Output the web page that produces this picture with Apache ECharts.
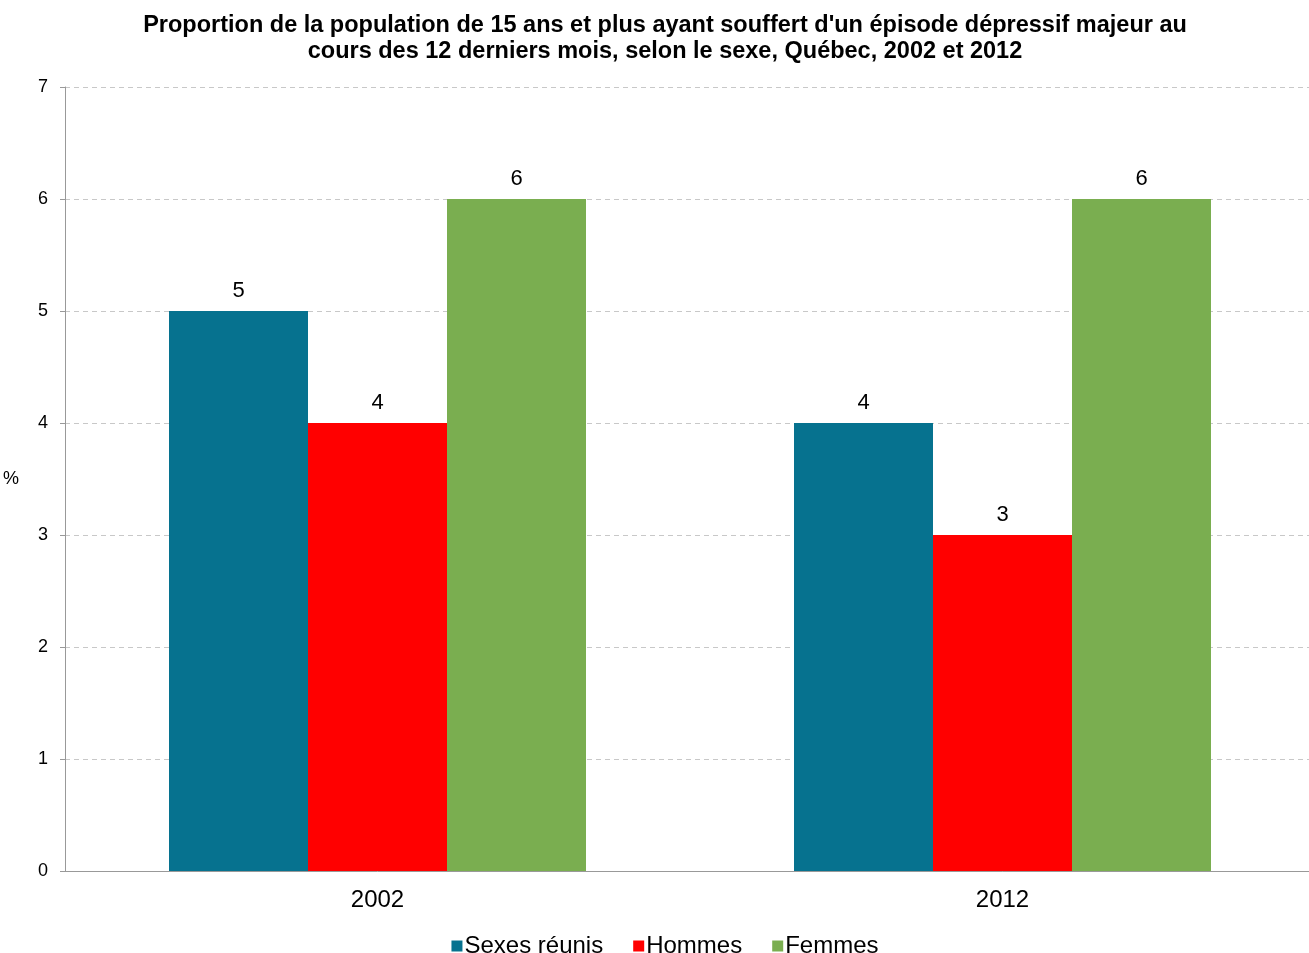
<!DOCTYPE html>
<html>
<head>
<meta charset="utf-8">
<script src="https://cdn.jsdelivr.net/npm/echarts@6/dist/echarts.min.js"></script>
<style>html,body{margin:0;padding:0;background:#fff;overflow:hidden;}#c{width:1330px;height:953px;}</style>
</head>
<body>
<div id="c"></div>
<script>
const categories = ['2002', '2012'];
const seriesNames = ['Sexes réunis', 'Hommes', 'Femmes'];
const sexesReunis = [5, 4];
const hommes = [4, 3];
const femmes = [6, 6];
const yTicks = [0, 1, 2, 3, 4, 5, 6, 7];
const colors = ['#06728F', '#FF0000', '#7AAE50'];

const chart = echarts.init(document.getElementById('c'));
const font = '"Liberation Sans", Arial, sans-serif';
const mk = (name, data, color) => ({
  name, type: 'bar', data, barWidth: 139, barGap: '0%',
  itemStyle: { color },
  label: { show: true, position: 'top', distance: 9, color: '#000', fontSize: 22, fontFamily: font }
});
chart.setOption({
  animation: false,
  title: {
    text: 'Proportion de la population de 15 ans et plus ayant souffert d\'un épisode dépressif majeur au\ncours des 12 derniers mois, selon le sexe, Québec, 2002 et 2012',
    left: 'center', top: 8,
    textStyle: { fontFamily: font, fontSize: 23.5, fontWeight: 'bold', color: '#000', lineHeight: 26 }
  },
  legend: {
    top: 929, left: 'center', itemWidth: 11, itemHeight: 11, itemGap: 30,
    icon: 'rect',
    textStyle: { fontFamily: font, fontSize: 24, color: '#000', padding: [0,0,0,-3] },
    data: seriesNames
  },
  grid: { left: 65, right: 15, top: 87, height: 784, containLabel: false },
  xAxis: {
    type: 'category', data: categories,
    axisLine: { lineStyle: { color: '#999' } },
    axisTick: { show: false },
    axisLabel: { fontFamily: font, fontSize: 24, color: '#000', margin: 17 }
  },
  yAxis: {
    type: 'value', min: yTicks[0], max: yTicks[yTicks.length - 1], interval: 1,
    name: '%', nameLocation: 'middle', nameRotate: 0, nameGap: 46,
    nameTextStyle: { fontFamily: font, fontSize: 18, color: '#000' },
    axisLine: { show: true, lineStyle: { color: '#999' } },
    axisTick: { show: true, length: 5, lineStyle: { color: '#999' } },
    axisLabel: { fontFamily: font, fontSize: 18, color: '#000', margin: 17 },
    splitLine: { lineStyle: { color: '#c8c8c8', type: [5, 4] } }
  },
  series: [
    mk(seriesNames[0], sexesReunis, colors[0]),
    mk(seriesNames[1], hommes, colors[1]),
    mk(seriesNames[2], femmes, colors[2])
  ]
});
</script>
</body>
</html>
